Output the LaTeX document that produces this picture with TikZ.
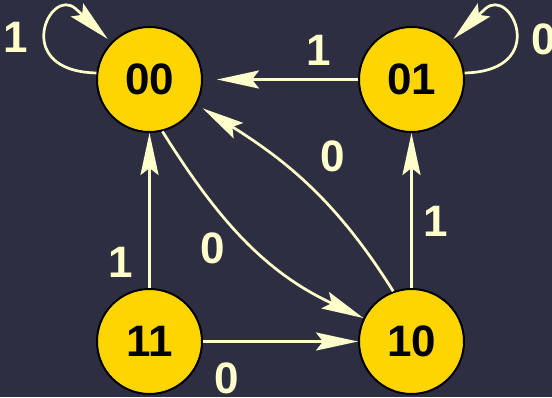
\documentclass[tikz,border=0pt]{standalone}
\usepackage{fontspec}
\setmainfont{Liberation Sans}
\usetikzlibrary{arrows.meta}
\definecolor{bg}{RGB}{46,46,66}
\definecolor{gold}{RGB}{255,213,0}
\definecolor{cream}{RGB}{255,255,204}
\tikzset{
  state/.style={circle, draw=black, line width=2pt, fill=gold, minimum size=105pt, inner sep=0pt,
    font=\fontsize{44}{44}\selectfont\bfseries, text=black},
  conn/.style={draw=cream, line width=2.7pt, -{Stealth[length=42pt, width=18pt, inset=7pt]}},
  lab/.style={font=\fontsize{44}{44}\selectfont\bfseries, text=cream, inner sep=0pt}
}
\begin{document}
\begin{tikzpicture}[x=1pt,y=1pt]
\fill[bg] (0,0) rectangle (552,397);
\useasboundingbox (0,0) rectangle (552,397);
\node[state] (s00) at (149.5,317.5) {00};
\node[state] (s01) at (411.5,317.5) {01};
\node[state] (s11) at (149.5,55.5) {11};
\node[state] (s10) at (411.5,55.5) {10};
\coordinate (t00) at (107.6,358.1);
\coordinate (t01) at (453.4,358.1);
\draw[conn] (s00.173) .. controls (10,326) and (50,412) .. (76,388) -- (t00);
\draw[conn] (s01.7) .. controls (551,326) and (511,412) .. (485,388) -- (t01);
\draw[conn, shorten >=14pt] (s01) -- (s00);
\draw[conn] (s11) -- (s00);
\draw[conn] (s10) -- (s01);
\draw[conn] (s11) -- (s10);
\draw[conn] (s00.-76) to[out=-58, in=155] (s10.154);
\draw[conn, shorten >=7pt] (s10.110) to[out=122, in=-32] (s00.-28);
\node[lab] (l1) at (16,359.5) {1};
\node[lab] (l2) at (543.5,358) {0};
\node[lab] (l3) at (319,347) {1};
\node[lab] (l4) at (333,241) {0};
\node[lab] (l5) at (436,176) {1};
\node[lab] (l6) at (213,149) {0};
\node[lab] (l7) at (121,135) {1};
\node[lab] (l8) at (227,19) {0};
\end{tikzpicture}
\end{document}
